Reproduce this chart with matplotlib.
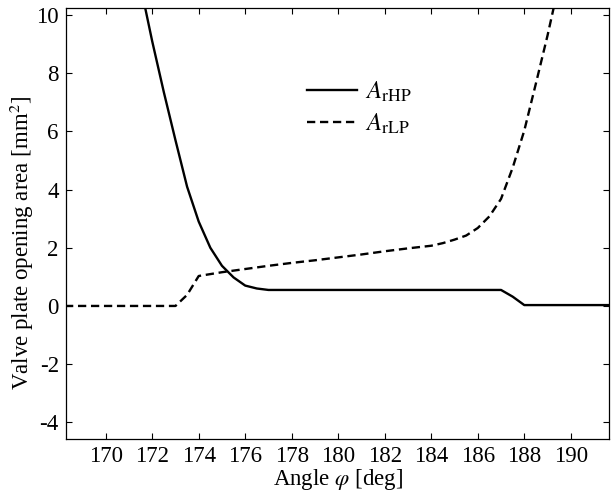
import numpy as np
import matplotlib
matplotlib.use("Agg")
import matplotlib.pyplot as plt

plt.rcParams['font.family'] = ['Liberation Serif', 'DejaVu Serif']
plt.rcParams['mathtext.fontset'] = 'stix'
plt.rcParams['axes.unicode_minus'] = False
plt.rcParams['font.size'] = 16.5

# angle [deg]
ang_hp = [171.5, 172.0, 172.5, 173.0, 173.5, 174.0, 174.5, 175.0, 175.5, 176.0,
          176.5, 177.0, 180.0, 184.0, 187.0, 187.5, 188.0, 191.75]
a_rhp = [11.0, 9.1, 7.35, 5.7, 4.1, 2.9, 2.0, 1.38, 0.98, 0.70,
         0.60, 0.55, 0.55, 0.55, 0.55, 0.32, 0.03, 0.03]

ang_lp = [168.25, 173.0, 173.5, 174.0, 175.0, 176.0, 177.0, 178.0, 179.0, 180.0,
          181.0, 182.0, 183.0, 184.0, 184.5, 185.0, 185.5, 186.0, 186.5, 187.0,
          187.5, 188.0, 188.5, 189.0, 189.5]
a_rlp = [0.0, 0.0, 0.38, 1.03, 1.16, 1.27, 1.38, 1.48, 1.57, 1.67,
         1.77, 1.88, 1.98, 2.07, 2.16, 2.28, 2.42, 2.68, 3.08, 3.68,
         4.75, 6.03, 7.65, 9.3, 11.1]

fig = plt.figure(figsize=(6.14, 4.94), dpi=100)
ax = fig.add_axes([0.107, 0.111, 0.8855, 0.872])

ax.plot(ang_hp, a_rhp, color='black', lw=1.7, label=r'$A_{\mathrm{rHP}}$')
ax.plot(ang_lp, a_rlp, color='black', lw=1.7, linestyle=(0, (3.5, 2.0)),
        label=r'$A_{\mathrm{rLP}}$')

ax.set_xlim(168.28, 191.66)
ax.set_ylim(-4.58, 10.23)
ax.set_xticks(np.arange(170, 191, 2))
ax.set_yticks(np.arange(-4, 11, 2))
ax.tick_params(direction='in', top=True, right=True, length=4, width=0.8,
               labelsize=16.5, pad=5)
for s in ax.spines.values():
    s.set_linewidth(0.9)

ax.set_xlabel(r'Angle $\varphi$ [deg]', labelpad=0)
ax.set_ylabel(r'Valve plate opening area [mm$^2$]')
ax.yaxis.set_label_coords(-0.055, 0.455)

ax.legend(loc='upper left', bbox_to_anchor=(0.403, 0.886), frameon=False,
          handlelength=2.0, handletextpad=0.3, labelspacing=0.28,
          fontsize=18)

fig.savefig('out.png', dpi=100)
